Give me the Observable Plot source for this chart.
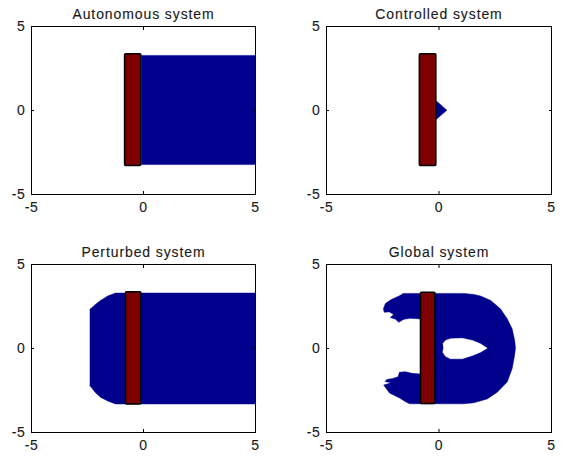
<!DOCTYPE html>
<html>
<head>
<meta charset="utf-8">
<script src="https://cdn.jsdelivr.net/npm/d3@7"></script>
<script src="https://cdn.jsdelivr.net/npm/@observablehq/plot@0.6"></script>
<style>
  html, body { margin: 0; padding: 0; background: #fff; }
  #wrap { position: relative; width: 566px; height: 459px; overflow: hidden; background: #fff; }
  .panel { position: absolute; }
  .panel svg { font-family: "Liberation Sans", Arial, sans-serif; font-size: 14px; }
  .panel svg text { letter-spacing: 0.6px; fill: #1a1a1a; font-size: 14px; stroke: #1a1a1a; stroke-width: 0.12px; }
  .panel svg text.ttl { letter-spacing: 0.9px; font-size: 14px; }
</style>
</head>
<body>
<div id="wrap"></div>
<script>
// ---- data ----
const titles = ["Autonomous system", "Controlled system", "Perturbed system", "Global system"];
const xTicks = [-5, 0, 5];
const yTicks = [-5, 0, 5];
const domainX = [-5, 5];
const domainY = [-5, 5];

// control bar (red rectangle) in each panel: [x1, x2, y1, y2]
const barAutonomous = [-0.82, -0.1, -3.3, 3.35];
const barControlled = [-0.85, -0.12, -3.3, 3.35];
const barPerturbed  = [-0.78, -0.1, -3.33, 3.35];
const barGlobal     = [-0.8, -0.16, -3.3, 3.32];

// blue regions (polygons as [x, y] vertices)
const regionAutonomous = [[-0.1, 3.28], [5, 3.28], [5, -3.22], [-0.1, -3.22]];
const regionControlled = [[-0.14, 0.6], [0.35, 0.02], [-0.14, -0.55]];
const regionPerturbed = [
  [-2.4, 2.32], [-2.15, 2.62], [-1.92, 2.86], [-1.6, 3.12], [-1.25, 3.3],
  [5, 3.3], [5, -3.3], [-1.25, -3.3], [-1.6, -3.12], [-1.92, -2.9],
  [-2.15, -2.62], [-2.4, -2.2]
];
const regionGlobal = [
  [-1.6, 3.28], [1.1, 3.28], [1.55, 3.22], [1.85, 3.12], [2.3, 2.86],
  [2.73, 2.36], [3.03, 1.77], [3.25, 1.17], [3.36, 0.5], [3.4, 0.05],
  [3.36, -0.4], [3.25, -1.2], [3.03, -2.0], [2.59, -2.6], [2.14, -3.0],
  [1.55, -3.23], [1.1, -3.29], [-1.3, -3.29], [-1.45, -3.2], [-1.75, -2.95],
  [-2.2, -2.65], [-2.35, -2.38], [-2.46, -2.18], [-2.12, -2.04], [-2.4, -1.97],
  [-2.32, -1.85], [-2.05, -1.78], [-1.82, -1.68], [-1.76, -1.42], [-1.5, -1.38],
  [-1.2, -1.48], [-0.82, -1.52], [-0.5, -1.52], [-0.5, 1.72], [-0.82, 1.76],
  [-1.27, 1.8], [-1.56, 1.74], [-1.79, 1.56], [-1.93, 1.74], [-2.16, 1.84],
  [-2.02, 2.02], [-2.2, 2.18], [-2.44, 2.16], [-2.47, 2.38], [-2.38, 2.68],
  [-2.16, 2.88], [-1.86, 3.08]
];
const holeGlobal = [
  [0.17, 0.28], [0.29, 0.48], [0.51, 0.58], [1.03, 0.61], [1.48, 0.48],
  [1.84, 0.28], [2.14, 0.02], [1.84, -0.22], [1.48, -0.42], [1.03, -0.61],
  [0.51, -0.61], [0.29, -0.46], [0.17, -0.22], [0.2, 0.02]
];

const panels = [
  {title: titles[0], bar: barAutonomous, regions: [regionAutonomous], holes: [], left: 0, top: 0, ml: 31, mr: 28},
  {title: titles[1], bar: barControlled, regions: [regionControlled], holes: [], left: 283, top: 0, ml: 43, mr: 15},
  {title: titles[2], bar: barPerturbed, regions: [regionPerturbed], holes: [], left: 0, top: 238, ml: 31, mr: 28},
  {title: titles[3], bar: barGlobal, regions: [regionGlobal], holes: [holeGlobal], left: 283, top: 238, ml: 43, mr: 15}
];

const BLUE = "#00008c";
const RED = "#7f0000";
const fmt = d => String(d);

const wrap = document.getElementById("wrap");
for (const p of panels) {
  const marks = [];
  for (const r of p.regions) {
    marks.push(Plot.line(r, {x: d => d[0], y: d => d[1], fill: BLUE, stroke: BLUE, strokeWidth: 0.5}));
  }
  for (const h of p.holes) {
    marks.push(Plot.line(h, {x: d => d[0], y: d => d[1], fill: "white", stroke: "white", strokeWidth: 0.5}));
  }
  marks.push(Plot.rect([p.bar], {x1: d => d[0], x2: d => d[1], y1: d => d[2], y2: d => d[3],
    fill: RED, stroke: "black", strokeWidth: 1.6, rx: 1}));
  marks.push(Plot.frame({stroke: "black", strokeWidth: 1}));
  // inward ticks on all four sides
  marks.push(Plot.axisX(xTicks, {anchor: "bottom", tickSize: -3, text: null}));
  marks.push(Plot.axisX(xTicks, {anchor: "top", tickSize: -3, text: null, label: null}));
  marks.push(Plot.axisY(yTicks, {anchor: "left", tickSize: -3, text: null}));
  marks.push(Plot.axisY(yTicks, {anchor: "right", tickSize: -3, text: null, label: null}));
  // tick labels
  marks.push(Plot.axisX(xTicks, {anchor: "bottom", tickSize: 0, tickPadding: 8, tickFormat: fmt, fontSize: 14, label: null}));
  marks.push(Plot.axisY(yTicks, {anchor: "left", tickSize: 0, tickPadding: 6, tickFormat: fmt, fontSize: 14, label: null}));
  // title
  marks.push(Plot.text([p.title], {frameAnchor: "top", dy: -17, fontSize: 14, className: "ttl", text: d => d}));

  const chart = Plot.plot({
    width: 283,
    height: 230,
    marginLeft: p.ml,
    marginRight: p.mr,
    marginTop: 26,
    marginBottom: 36,
    x: {domain: domainX, label: null},
    y: {domain: domainY, label: null},
    style: {background: "white", overflow: "visible"},
    marks
  });
  const div = document.createElement("div");
  div.className = "panel";
  div.style.left = p.left + "px";
  div.style.top = p.top + "px";
  div.appendChild(chart);
  wrap.appendChild(div);
}
document.querySelectorAll(".ttl text").forEach(t => t.classList.add("ttl"));
</script>
</body>
</html>
